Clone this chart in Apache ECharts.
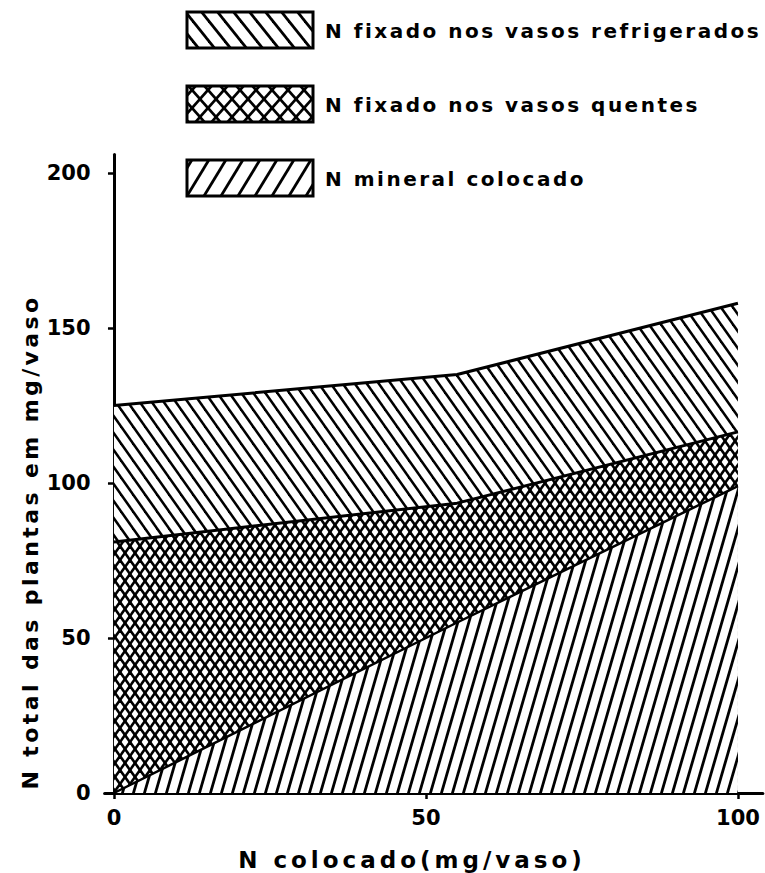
<!DOCTYPE html>
<html><head><meta charset="utf-8">
<script src="https://cdn.jsdelivr.net/npm/echarts@6/dist/echarts.min.js"></script>
<style>html,body{margin:0;padding:0;background:#fff}#c{width:765px;height:873px}</style>
</head><body><div id="c"></div>
<script>
// ---- data ----
const xValues = [0, 55, 100];            // N colocado (mg/vaso)
const mineralN = [0, 55, 99];            // top of "N mineral colocado"
const hotN = [81, 93.5, 116.5];          // top of "N fixado nos vasos quentes"
const cooledN = [125, 135, 158];         // top of "N fixado nos vasos refrigerados"
const xTicks = [0, 50, 100];
const yTicks = [0, 50, 100, 150, 200];
const legendNames = ['N fixado nos vasos refrigerados', 'N fixado nos vasos quentes', 'N mineral colocado'];
const xTitle = 'N colocado(mg/vaso)';
const yTitle = 'N total das plantas em mg/vaso';

function hatch(w, h, lw, kind) {
  const c = document.createElement('canvas'); c.width = w; c.height = h;
  const g = c.getContext('2d');
  g.fillStyle = '#fff'; g.fillRect(0, 0, w, h);
  g.strokeStyle = '#000'; g.lineWidth = lw;
  const back = () => { for (let k = -1; k <= 1; k++) { g.beginPath(); g.moveTo(k * w - w, -h); g.lineTo(k * w + 2 * w, 2 * h); g.stroke(); } };
  const fwd = () => { for (let k = -1; k <= 1; k++) { g.beginPath(); g.moveTo(k * w - w, 2 * h); g.lineTo(k * w + 2 * w, -h); g.stroke(); } };
  if (kind === 'back') back(); else if (kind === 'fwd') fwd(); else { back(); fwd(); }
  return { image: c, repeat: 'repeat', imageWidth: w, imageHeight: h };
}
const patCooled = hatch(12, 17, 2.5, 'back');
const patHot = hatch(10, 14, 2.6, 'cross');
const patMineral = hatch(11, 38, 2.8, 'fwd');
const legPats = [hatch(16, 20, 2.8, 'back'), hatch(16, 18, 2.8, 'cross'), hatch(17, 28, 2.8, 'fwd')];

const font = '"DejaVu Sans", sans-serif';
const chart = echarts.init(document.getElementById('c'), null, { renderer: 'svg' });

function mk(vals) { return xValues.map((x, i) => [x, vals[i]]); }

const legendY = [12, 86, 160];
const graphics = [];
legendNames.forEach((n, i) => {
  graphics.push({ type: 'rect', shape: { x: 187, y: legendY[i], width: 126, height: 36 },
    style: { fill: legPats[i], stroke: '#000', lineWidth: 3 } });
  graphics.push({ type: 'text', x: 325, y: legendY[i] + 19,
    style: { text: n, fill: '#000', font: 'bold 20px ' + font, textAlign: 'left', textVerticalAlign: 'middle', align: 'left', verticalAlign: 'middle' } });
});
graphics.push({ type: 'text', x: 412, y: 860,
  style: { text: xTitle, fill: '#000', font: 'bold 23px ' + font, textAlign: 'center', textVerticalAlign: 'middle', align: 'center', verticalAlign: 'middle' } });
graphics.push({ type: 'text', x: 30, y: 542, rotation: Math.PI / 2,
  style: { text: yTitle, fill: '#000', font: 'bold 22px ' + font, textAlign: 'center', textVerticalAlign: 'middle', align: 'center', verticalAlign: 'middle' } });

const labelStyle = { color: '#000', fontFamily: font, fontWeight: 'bold', fontSize: 21 };

chart.setOption({
  animation: false,
  backgroundColor: '#fff',
  grid: { left: 104.6, right: 2.1, top: 154.4, bottom: 80, containLabel: false, outerBoundsMode: 'none' },
  xAxis: {
    type: 'value', min: -1.5, max: 104,
    axisLine: { show: true, onZero: false, lineStyle: { color: '#000', width: 3 } },
    axisTick: { show: true, customValues: xTicks, length: 6, inside: false, lineStyle: { color: '#000', width: 2.5 } },
    axisLabel: { customValues: xTicks, margin: 14, ...labelStyle },
    splitLine: { show: false }
  },
  yAxis: {
    type: 'value', min: 0, max: 206,
    axisLine: { show: true, onZero: true, lineStyle: { color: '#000', width: 3 } },
    axisTick: { show: true, customValues: yTicks, length: 6, inside: false, lineStyle: { color: '#000', width: 2.5 } },
    axisLabel: { customValues: yTicks, margin: 14, ...labelStyle },
    splitLine: { show: false }
  },
  graphic: graphics,
  series: [
    { name: legendNames[0], type: 'line', data: mk(cooledN), symbol: 'none', z: 1,
      lineStyle: { color: '#000', width: 3 }, areaStyle: { color: patCooled, opacity: 1 } },
    { name: legendNames[1], type: 'line', data: mk(hotN), symbol: 'none', z: 2,
      lineStyle: { color: '#000', width: 3 }, areaStyle: { color: patHot, opacity: 1 } },
    { name: legendNames[2], type: 'line', data: mk(mineralN), symbol: 'none', z: 3,
      lineStyle: { color: '#000', width: 2.5 }, areaStyle: { color: patMineral, opacity: 1 } }
  ]
});

function spacing() {
  document.querySelectorAll('#c text').forEach(t => {
    const s = t.textContent || '';
    if (/^\d+$/.test(s)) t.style.letterSpacing = '0px';
    else if (s === yTitle) t.style.letterSpacing = '3.4px';
    else if (s === xTitle) t.style.letterSpacing = '4px';
    else t.style.letterSpacing = '2.5px';
  });
}
chart.on('finished', spacing);
spacing();
setTimeout(spacing, 50);
</script></body></html>
